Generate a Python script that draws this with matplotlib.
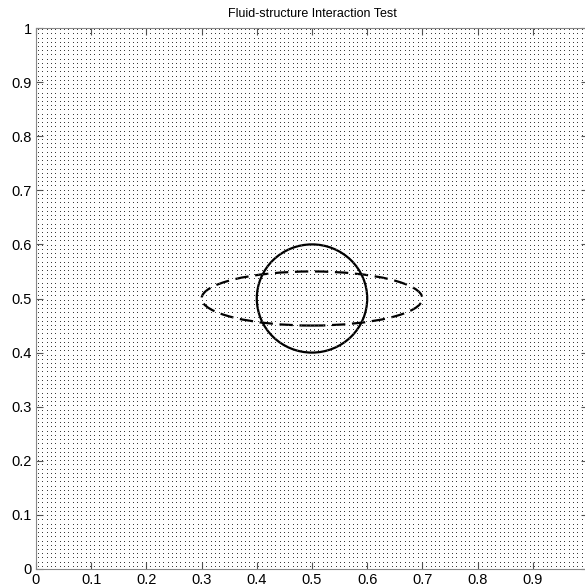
import numpy as np
import matplotlib.pyplot as plt
from matplotlib.patches import Circle, Ellipse

plt.rcParams['font.family'] = ['Liberation Sans', 'DejaVu Sans']

# grid of the flow solver (cells per side)
n_cells = 128

# immersed structures
circle_center = (0.5, 0.5)
circle_radius = 0.1
ellipse_center = (0.5, 0.5)
ellipse_width = 0.4
ellipse_height = 0.1

xticks = [0, 0.1, 0.2, 0.3, 0.4, 0.5, 0.6, 0.7, 0.8, 0.9]
xtick_labels = ['0', '0.1', '0.2', '0.3', '0.4', '0.5', '0.6', '0.7', '0.8', '0.9']
yticks = [0, 0.1, 0.2, 0.3, 0.4, 0.5, 0.6, 0.7, 0.8, 0.9, 1]
ytick_labels = ['0', '0.1', '0.2', '0.3', '0.4', '0.5', '0.6', '0.7', '0.8', '0.9', '1']

fig = plt.figure(figsize=(5.85, 5.88), dpi=100)
ax = fig.add_axes([36 / 585, 19 / 588, 552 / 585, 541 / 588])

# cell-centred points; the velocity vectors are tiny so they show up as dots
c = (np.arange(n_cells) + 0.5) / n_cells
X, Y = np.meshgrid(c, c)
ax.plot(X.ravel(), Y.ravel(), ',', color='#3c3c3c')

ax.add_patch(Circle(circle_center, circle_radius, fill=False, color='black', lw=1.6))
ax.add_patch(Ellipse(ellipse_center, ellipse_width, ellipse_height, fill=False,
                     color='black', lw=1.6, ls=(0, (6, 3))))

ax.set_xlim(0, 1)
ax.set_ylim(0, 1)
ax.set_xticks(xticks)
ax.set_xticklabels(xtick_labels)
ax.set_yticks(yticks)
ax.set_yticklabels(ytick_labels)
ax.tick_params(direction='in', top=True, right=True, labelsize=10.5, length=5,
               color='#555555')
ax.tick_params(axis='x', pad=3)
ax.tick_params(axis='y', pad=3)
for s in ax.spines.values():
    s.set_color('#888888')

ax.set_title('Fluid-structure Interaction Test', fontsize=9, pad=8)

fig.savefig('out.png', dpi=100)
